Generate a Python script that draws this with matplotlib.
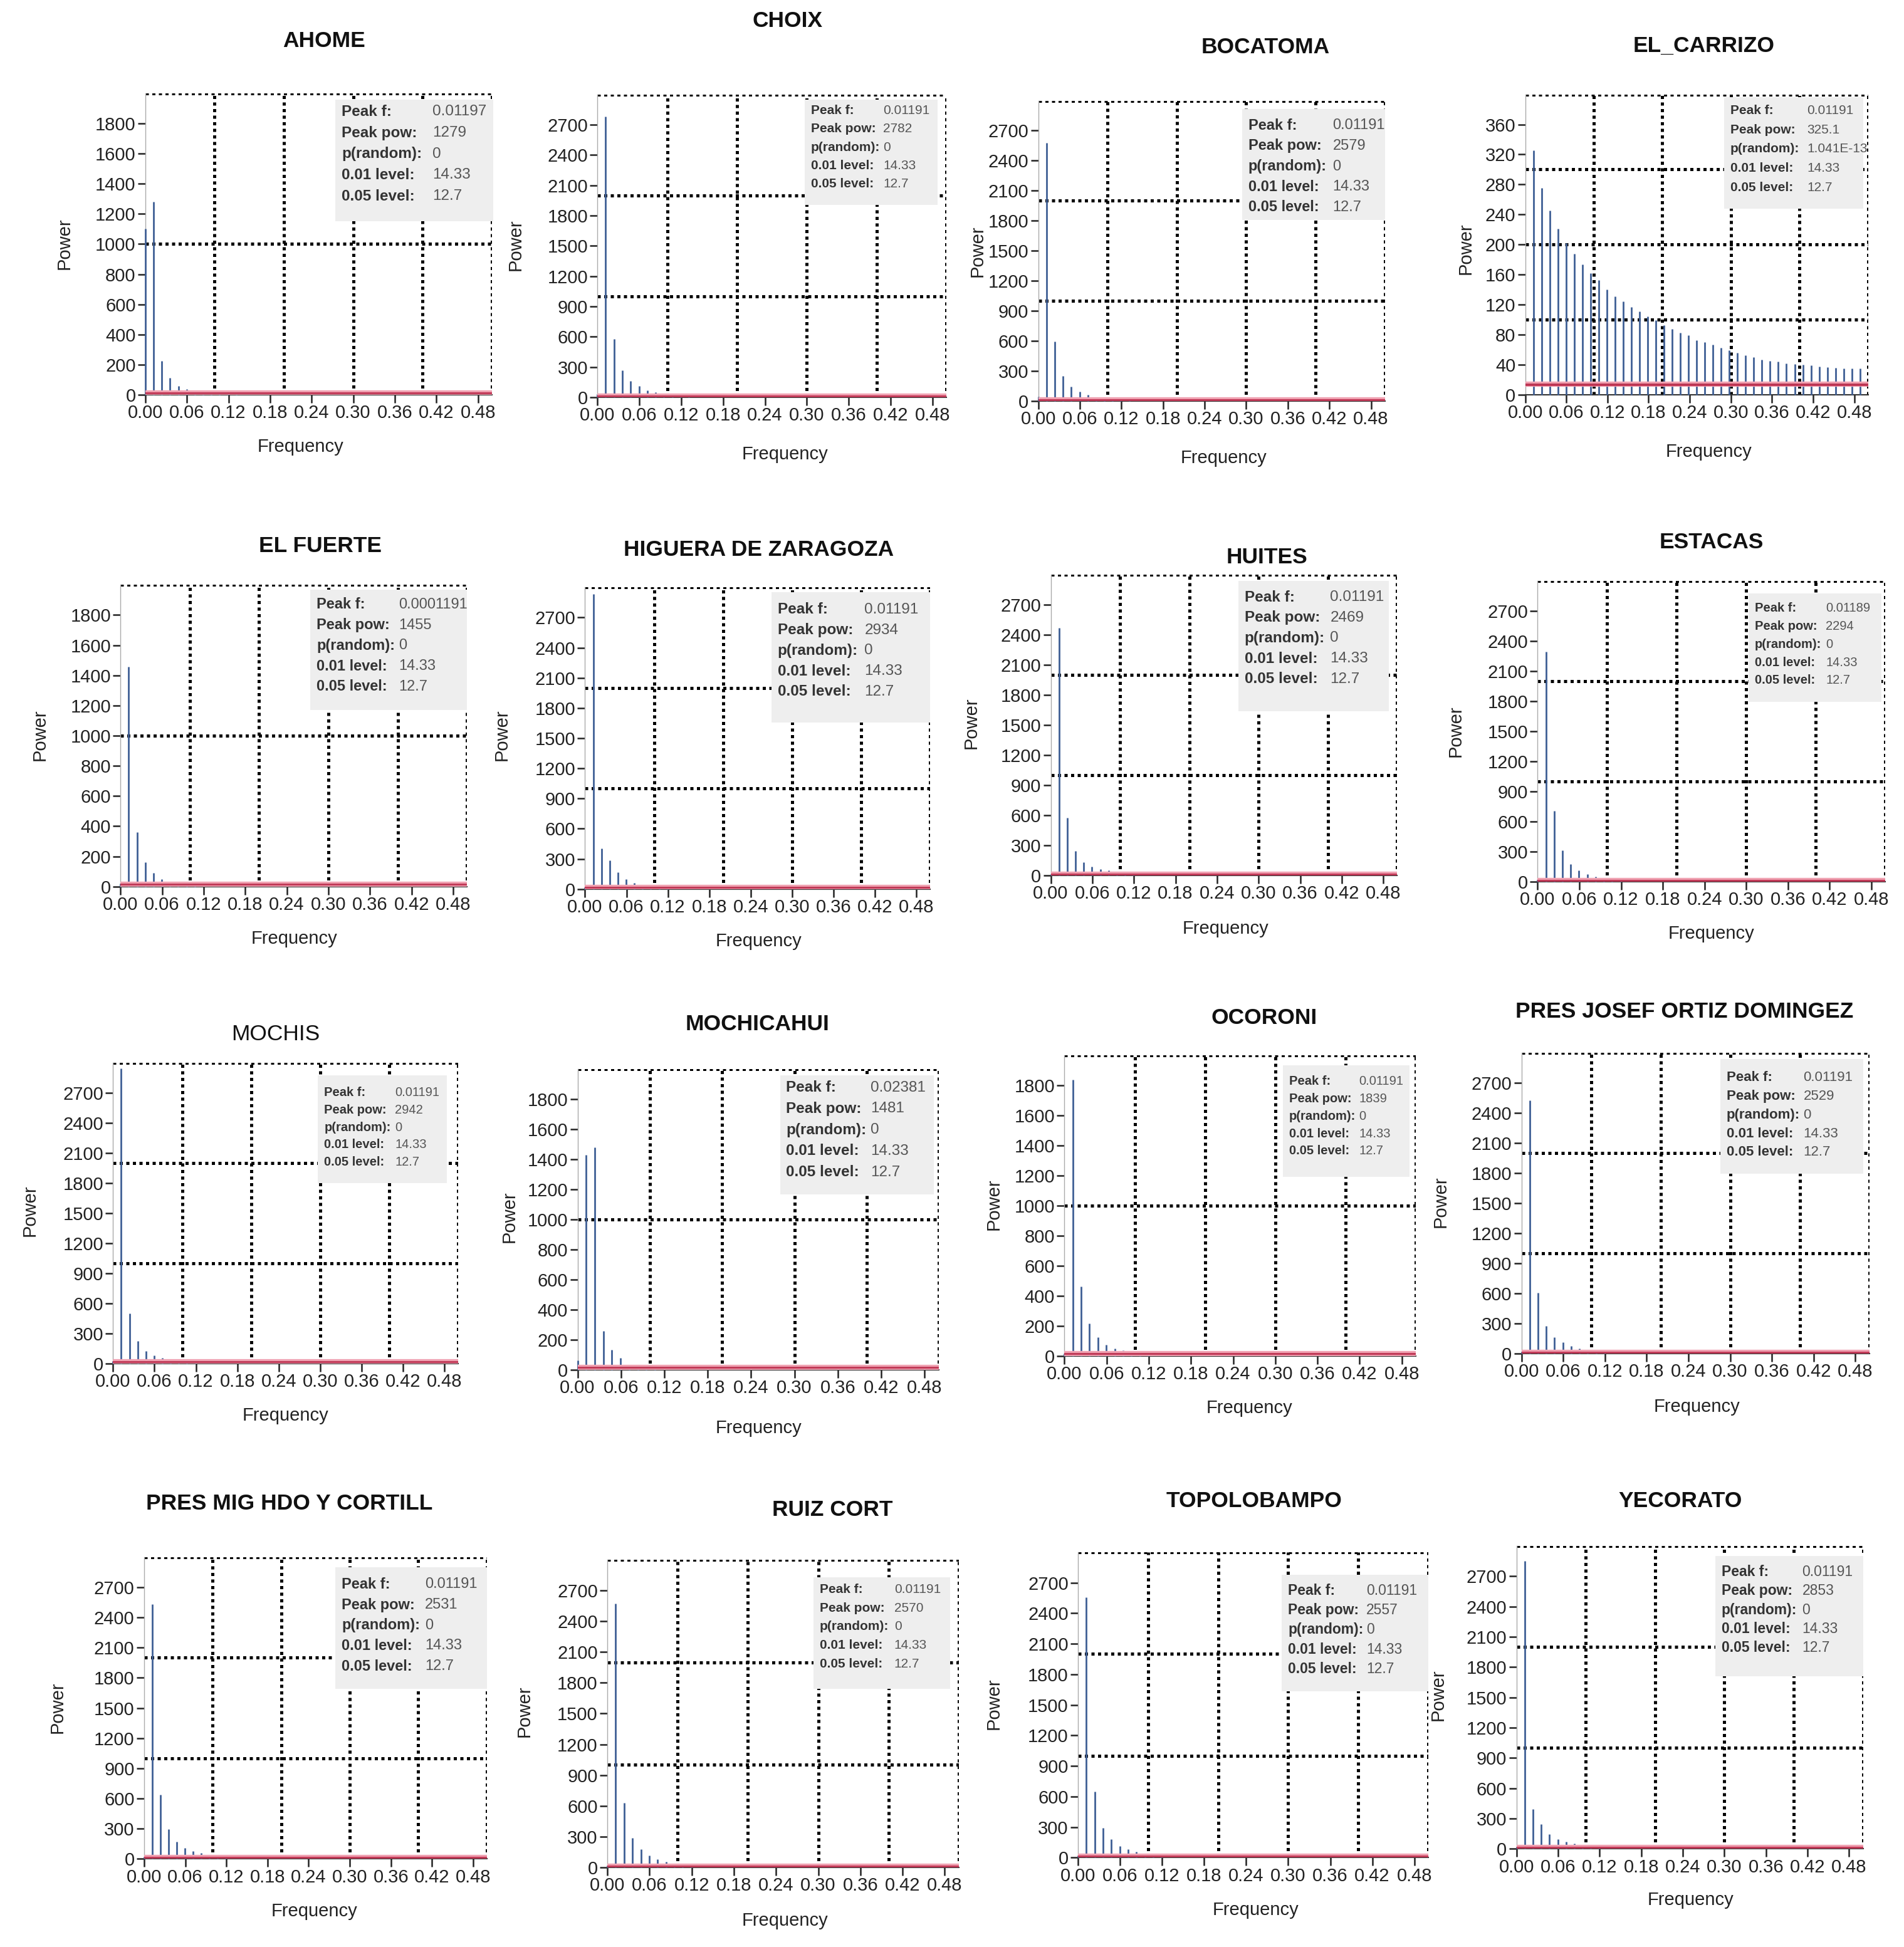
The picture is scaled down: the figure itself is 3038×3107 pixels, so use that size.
import numpy as np
import matplotlib
matplotlib.use("Agg")
import matplotlib.pyplot as plt
from matplotlib.patches import Rectangle

plt.rcParams['font.family'] = ['Liberation Sans', 'DejaVu Sans']

# ── Data (power per frequency bin, bins are k * FREQ_STEP) ───────────────────
FREQ_STEP = 0.01191

stations = ["AHOME", "CHOIX", "BOCATOMA", "EL_CARRIZO",
            "EL FUERTE", "HIGUERA DE ZARAGOZA", "HUITES", "ESTACAS",
            "MOCHIS", "MOCHICAHUI", "OCORONI", "PRES JOSEF ORTIZ DOMINGEZ",
            "PRES MIG HDO Y CORTILL", "RUIZ CORT", "TOPOLOBAMPO", "YECORATO"]

ahome      = [1100, 1279, 226, 114, 58, 38, 20, 12, 9, 7, 6, 5]
choix      = [30, 2782, 578, 270, 160, 110, 70, 50, 35, 25, 18, 12]
bocatoma   = [45, 2579, 594, 253, 141, 94, 65, 38, 27, 18, 12, 8]
el_carrizo = [0, 325.1, 275, 245, 221, 202, 188, 174, 162, 153, 140, 131, 124,
              117, 111, 104, 99, 93, 88, 83, 79, 73, 70, 67, 63, 59, 56, 53,
              50, 47, 45, 44, 42, 41, 40, 39, 38, 37, 36, 35, 35, 35]
el_fuerte  = [20, 1455, 362, 160, 90, 50, 30, 20, 14, 10]
higuera    = [20, 2934, 405, 285, 165, 100, 60, 40, 28, 20, 14]
huites     = [15, 2469, 577, 241, 134, 85, 63, 49, 31, 20, 14]
estacas    = [20, 2294, 706, 310, 175, 110, 75, 50, 35, 24, 16]
mochis     = [20, 2942, 496, 223, 125, 80, 55, 40, 28, 20, 14]
mochicahui = [61, 1429, 1481, 255, 132, 77, 33, 16, 10, 8]
ocoroni    = [15, 1839, 463, 215, 124, 75, 50, 35, 24, 16, 12]
pres_josef = [20, 2529, 607, 273, 160, 110, 75, 50, 35, 24, 16]
pres_mig   = [20, 2531, 640, 294, 170, 107, 78, 55, 40, 29, 20]
ruiz_cort  = [20, 2570, 629, 290, 180, 120, 80, 55, 40, 28, 18]
topolobampo = [20, 2557, 646, 293, 180, 110, 80, 55, 40, 28, 18]
yecorato   = [20, 2853, 394, 246, 148, 98, 70, 50, 35, 24, 16]

powers = [ahome, choix, bocatoma, el_carrizo, el_fuerte, higuera, huites,
          estacas, mochis, mochicahui, ocoroni, pres_josef, pres_mig,
          ruiz_cort, topolobampo, yecorato]

peak_f = ["0.01197", "0.01191", "0.01191", "0.01191",
          "0.0001191", "0.01191", "0.01191", "0.01189",
          "0.01191", "0.02381", "0.01191", "0.01191",
          "0.01191", "0.01191", "0.01191", "0.01191"]
peak_pow = ["1279", "2782", "2579", "325.1", "1455", "2934", "2469", "2294",
            "2942", "1481", "1839", "2529", "2531", "2570", "2557", "2853"]
p_random = ["0", "0", "0", "1.041E-13", "0", "0", "0", "0",
            "0", "0", "0", "0", "0", "0", "0", "0"]
level_01 = 14.33
level_05 = 12.7

# y scale type: 'a' -> 0..1800 (max 2000), 'b' -> 0..2700 (max 3000), 'c' -> 0..360
scale_type = ["a", "b", "b", "c", "a", "b", "b", "b",
              "b", "a", "a", "b", "b", "b", "b", "b"]

# ── Layout (reference pixel coords at 1533x1568) ─────────────────────────────
W, H = 1533.0, 1568.0
# left, right, top(ymax), bottom(0)
axes_px = [(117, 396, 75, 318), (481, 762, 76, 320), (836, 1115, 81, 323), (1228, 1504, 76, 318),
           (97, 376, 471, 714), (471, 749, 473, 716), (846, 1125, 463, 705), (1238, 1518, 468, 710),
           (91, 369, 856, 1098), (465, 756, 861, 1103), (857, 1140, 850, 1092), (1225, 1505, 848, 1090),
           (116, 392, 1254, 1497), (489, 772, 1256, 1504), (868, 1150, 1250, 1496), (1221, 1500, 1245, 1489)]
title_px = [(261, 33), (634, 17), (1019, 38), (1372, 37),
            (258, 440), (611, 443), (1020, 449), (1378, 437),
            (222, 833), (610, 825), (1018, 820), (1356, 815),
            (233, 1211), (670, 1216), (1010, 1209), (1353, 1209)]
xlab_px = [(242, 360), (632, 366), (985, 369), (1376, 364),
           (237, 756), (611, 758), (987, 748), (1378, 752),
           (230, 1140), (611, 1150), (1006, 1134), (1366, 1133),
           (253, 1539), (632, 1547), (1011, 1538), (1361, 1530)]
ylab_px = [(52, 196), (415, 197), (787, 202), (1180, 200),
           (32, 592), (404, 592), (782, 582), (1172, 589),
           (24, 975), (410, 980), (800, 970), (1160, 968),
           (46, 1375), (422, 1378), (800, 1372), (1158, 1365)]
# box x0, x1, y0, y1, value column x, first line y, line spacing, fontsize
box_px = [(270, 397, 80, 178, 348, 90, 17, 17.5),
          (648, 755, 80, 165, 711, 89, 14.8, 15),
          (1000, 1115, 88, 177, 1073, 101, 16.5, 17),
          (1388, 1500, 78, 168, 1455, 89, 15.5, 15),
          (250, 376, 475, 572, 321, 487, 16.5, 17),
          (621, 749, 477, 582, 696, 491, 16.5, 17.5),
          (997, 1118, 468, 573, 1071, 481, 16.5, 17.5),
          (1408, 1515, 478, 565, 1470, 490, 14.5, 14.5),
          (256, 360, 866, 953, 318, 880, 14, 14.5),
          (628, 752, 866, 962, 701, 876, 17, 17.5),
          (1033, 1135, 858, 948, 1094, 871, 14, 14.5),
          (1385, 1500, 853, 945, 1452, 868, 15, 16),
          (270, 392, 1262, 1360, 342, 1276, 16.5, 17),
          (655, 765, 1270, 1360, 720, 1280, 15, 15),
          (1032, 1150, 1268, 1362, 1100, 1281, 15.8, 16.5),
          (1381, 1500, 1253, 1350, 1451, 1266, 15.3, 16.5)]


def fx(x):
    return x / W


def fy(y):
    return 1 - y / H


fig = plt.figure(figsize=(30.38, 31.07), dpi=100)
fig.patch.set_facecolor("white")

dotted = dict(color="black", lw=3.6, linestyle=(0, (1.0, 1.1)), zorder=1)
bar_color = "#3f5f95"

for i, name in enumerate(stations):
    L, R, T, B = axes_px[i]
    ax = fig.add_axes([fx(L), fy(B), (R - L) / W, (B - T) / H])
    p = np.array(powers[i], dtype=float)
    f = FREQ_STEP * np.arange(len(p))

    st = scale_type[i]
    if st == "a":
        ymax, yticks, gstep = 2000, np.arange(0, 1801, 200), 1000
    elif st == "b":
        ymax, yticks, gstep = 3000, np.arange(0, 2701, 300), 1000
    else:
        ymax, yticks, gstep = 400, np.arange(0, 361, 40), 100

    # dotted grid (vertical at 0.1 steps, horizontal at round numbers, plus top/right)
    for gx in [0.1, 0.2, 0.3, 0.4, 0.5]:
        ax.axvline(gx, **dotted)
    for gy in np.arange(gstep, ymax + 1, gstep):
        ax.axhline(gy, **dotted)

    ax.vlines(f, 0, p, color=bar_color, lw=2.0, zorder=3, clip_on=False)

    # significance levels
    ax.axhline(level_01, color="#f0a2b2", lw=6, zorder=4)
    ax.axhline(level_01, color="#b8304f", lw=2, zorder=5)
    ax.axhline(level_05, color="#c23a58", lw=1.5, zorder=5)

    ax.set_xlim(0, 0.5)
    ax.set_ylim(0, ymax)
    ax.set_xticks(np.arange(0, 0.49, 0.06))
    ax.set_xticklabels([f"{v:.2f}" for v in np.arange(0, 0.49, 0.06)])
    ax.set_yticks(yticks)
    ax.set_yticklabels([str(int(v)) for v in yticks])
    ax.tick_params(direction="out", length=9, width=1.8, labelsize=21,
                   pad=2, colors="#222222")
    for s in ["top", "right"]:
        ax.spines[s].set_visible(False)
    ax.spines["left"].set_color("#aaaaaa")
    ax.spines["left"].set_linewidth(1.0)
    ax.spines["bottom"].set_color("#333333")
    ax.spines["bottom"].set_linewidth(1.5)
    ax.set_facecolor("white")

    # texts
    tx, ty = title_px[i]
    fig.text(fx(tx), fy(ty), name, ha="center", va="center", fontsize=25.5,
             fontweight="normal" if name == "MOCHIS" else "bold", color="#111111")
    lx, ly = xlab_px[i]
    fig.text(fx(lx), fy(ly), "Frequency", ha="center", va="center",
             fontsize=21, color="#222222")
    px_, py_ = ylab_px[i]
    fig.text(fx(px_), fy(py_), "Power", ha="center", va="center",
             fontsize=21, rotation=90, color="#222222")

    # info box
    x0, x1, y0, y1, vx, ly0, dy, fs = box_px[i]
    fig.patches.append(Rectangle((fx(x0), fy(y1)), (x1 - x0) / W, (y1 - y0) / H,
                                 transform=fig.transFigure, facecolor="#eeeeee",
                                 edgecolor="none", zorder=2, figure=fig))
    rows = [("Peak f:", peak_f[i]), ("Peak pow:", peak_pow[i]),
            ("p(random):", p_random[i]), ("0.01 level:", f"{level_01:g}"),
            ("0.05 level:", f"{level_05:g}")]
    for r, (lab, val) in enumerate(rows):
        yy = fy(ly0 + r * dy)
        fig.text(fx(x0 + 5), yy, lab, ha="left", va="center", fontsize=fs,
                 fontweight="bold", color="#333333", zorder=4)
        fig.text(fx(vx), yy, val, ha="left", va="center", fontsize=fs,
                 color="#555555", zorder=4)

fig.savefig("out.png", dpi=100, facecolor="white")
